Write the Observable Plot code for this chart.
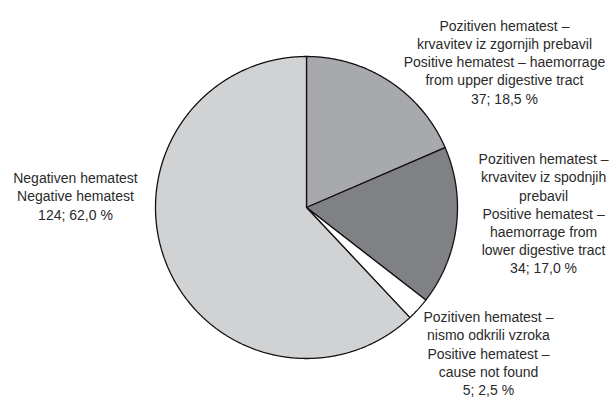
<!DOCTYPE html>
<html><head><meta charset="utf-8">
<script src="https://cdn.jsdelivr.net/npm/d3@7"></script>
<script src="https://cdn.jsdelivr.net/npm/@observablehq/plot@0.6"></script>
<style>body{margin:0;background:#fff;}</style>
</head><body><div id="chart"></div>
<script>
// ---- data ----
const categories = ["upper", "lower", "notfound", "negative"];
const counts = [37, 34, 5, 124];
const percents = ["18,5", "17,0", "2,5", "62,0"];
const labelTexts = [
  "Pozitiven hematest –\nkrvavitev iz zgornjih prebavil\nPositive hematest – haemorrage\nfrom upper digestive tract",
  "Pozitiven hematest –\nkrvavitev iz spodnjih\nprebavil\nPositive hematest –\nhaemorrage from\nlower digestive tract",
  "Pozitiven hematest –\nnismo odkrili vzroka\nPositive hematest –\ncause not found",
  "Negativen hematest\nNegative hematest"
];

// ---- styles / layout ----
const sliceColors = ["#a8a9ac", "#808184", "#ffffff", "#d1d2d4"];
// label anchor positions in pie-radius units (centre of the text block)
const labelX = [1.311, 1.570, 1.205, -1.530];
const labelY = [0.967, -0.036, -0.962, 0.079];

const total = d3.sum(counts);
const slices = [];
let acc = 0;
categories.forEach((c, i) => {
  const a0 = acc / total * 2 * Math.PI;
  acc += counts[i];
  const a1 = acc / total * 2 * Math.PI;
  const n = Math.max(2, Math.ceil((a1 - a0) / (Math.PI / 720)));
  slices.push({cat: c, x: 0, y: 0});
  for (let k = 0; k <= n; k++) {
    const a = a0 + (a1 - a0) * k / n;
    slices.push({cat: c, x: Math.sin(a), y: Math.cos(a)});
  }
  slices.push({cat: c, x: 0, y: 0});
});

const labels = categories.map((c, i) => ({
  x: labelX[i], y: labelY[i],
  text: labelTexts[i] + "\n" + counts[i] + "; " + percents[i] + " %"
}));

const chart = Plot.plot({
  width: 615,
  height: 400,
  marginLeft: 155,
  marginRight: 158,
  marginTop: 56,
  marginBottom: 42,
  x: {domain: [-1, 1], axis: null},
  y: {domain: [-1, 1], axis: null},
  color: {domain: categories, range: sliceColors},
  style: {fontFamily: "'Liberation Sans', Arial, sans-serif", background: "#fff"},
  marks: [
    Plot.line(slices, {x: "x", y: "y", z: "cat", fill: "cat", stroke: "#111", strokeWidth: 1.3, strokeLinejoin: "miter", curve: "linear"}),
    Plot.text(labels, {x: "x", y: "y", text: "text", fontSize: 14, lineHeight: 1.3, lineAnchor: "middle", textAnchor: "middle", fill: "#2a2a2a"})
  ]
});
document.getElementById("chart").appendChild(chart);
</script>
</body></html>
